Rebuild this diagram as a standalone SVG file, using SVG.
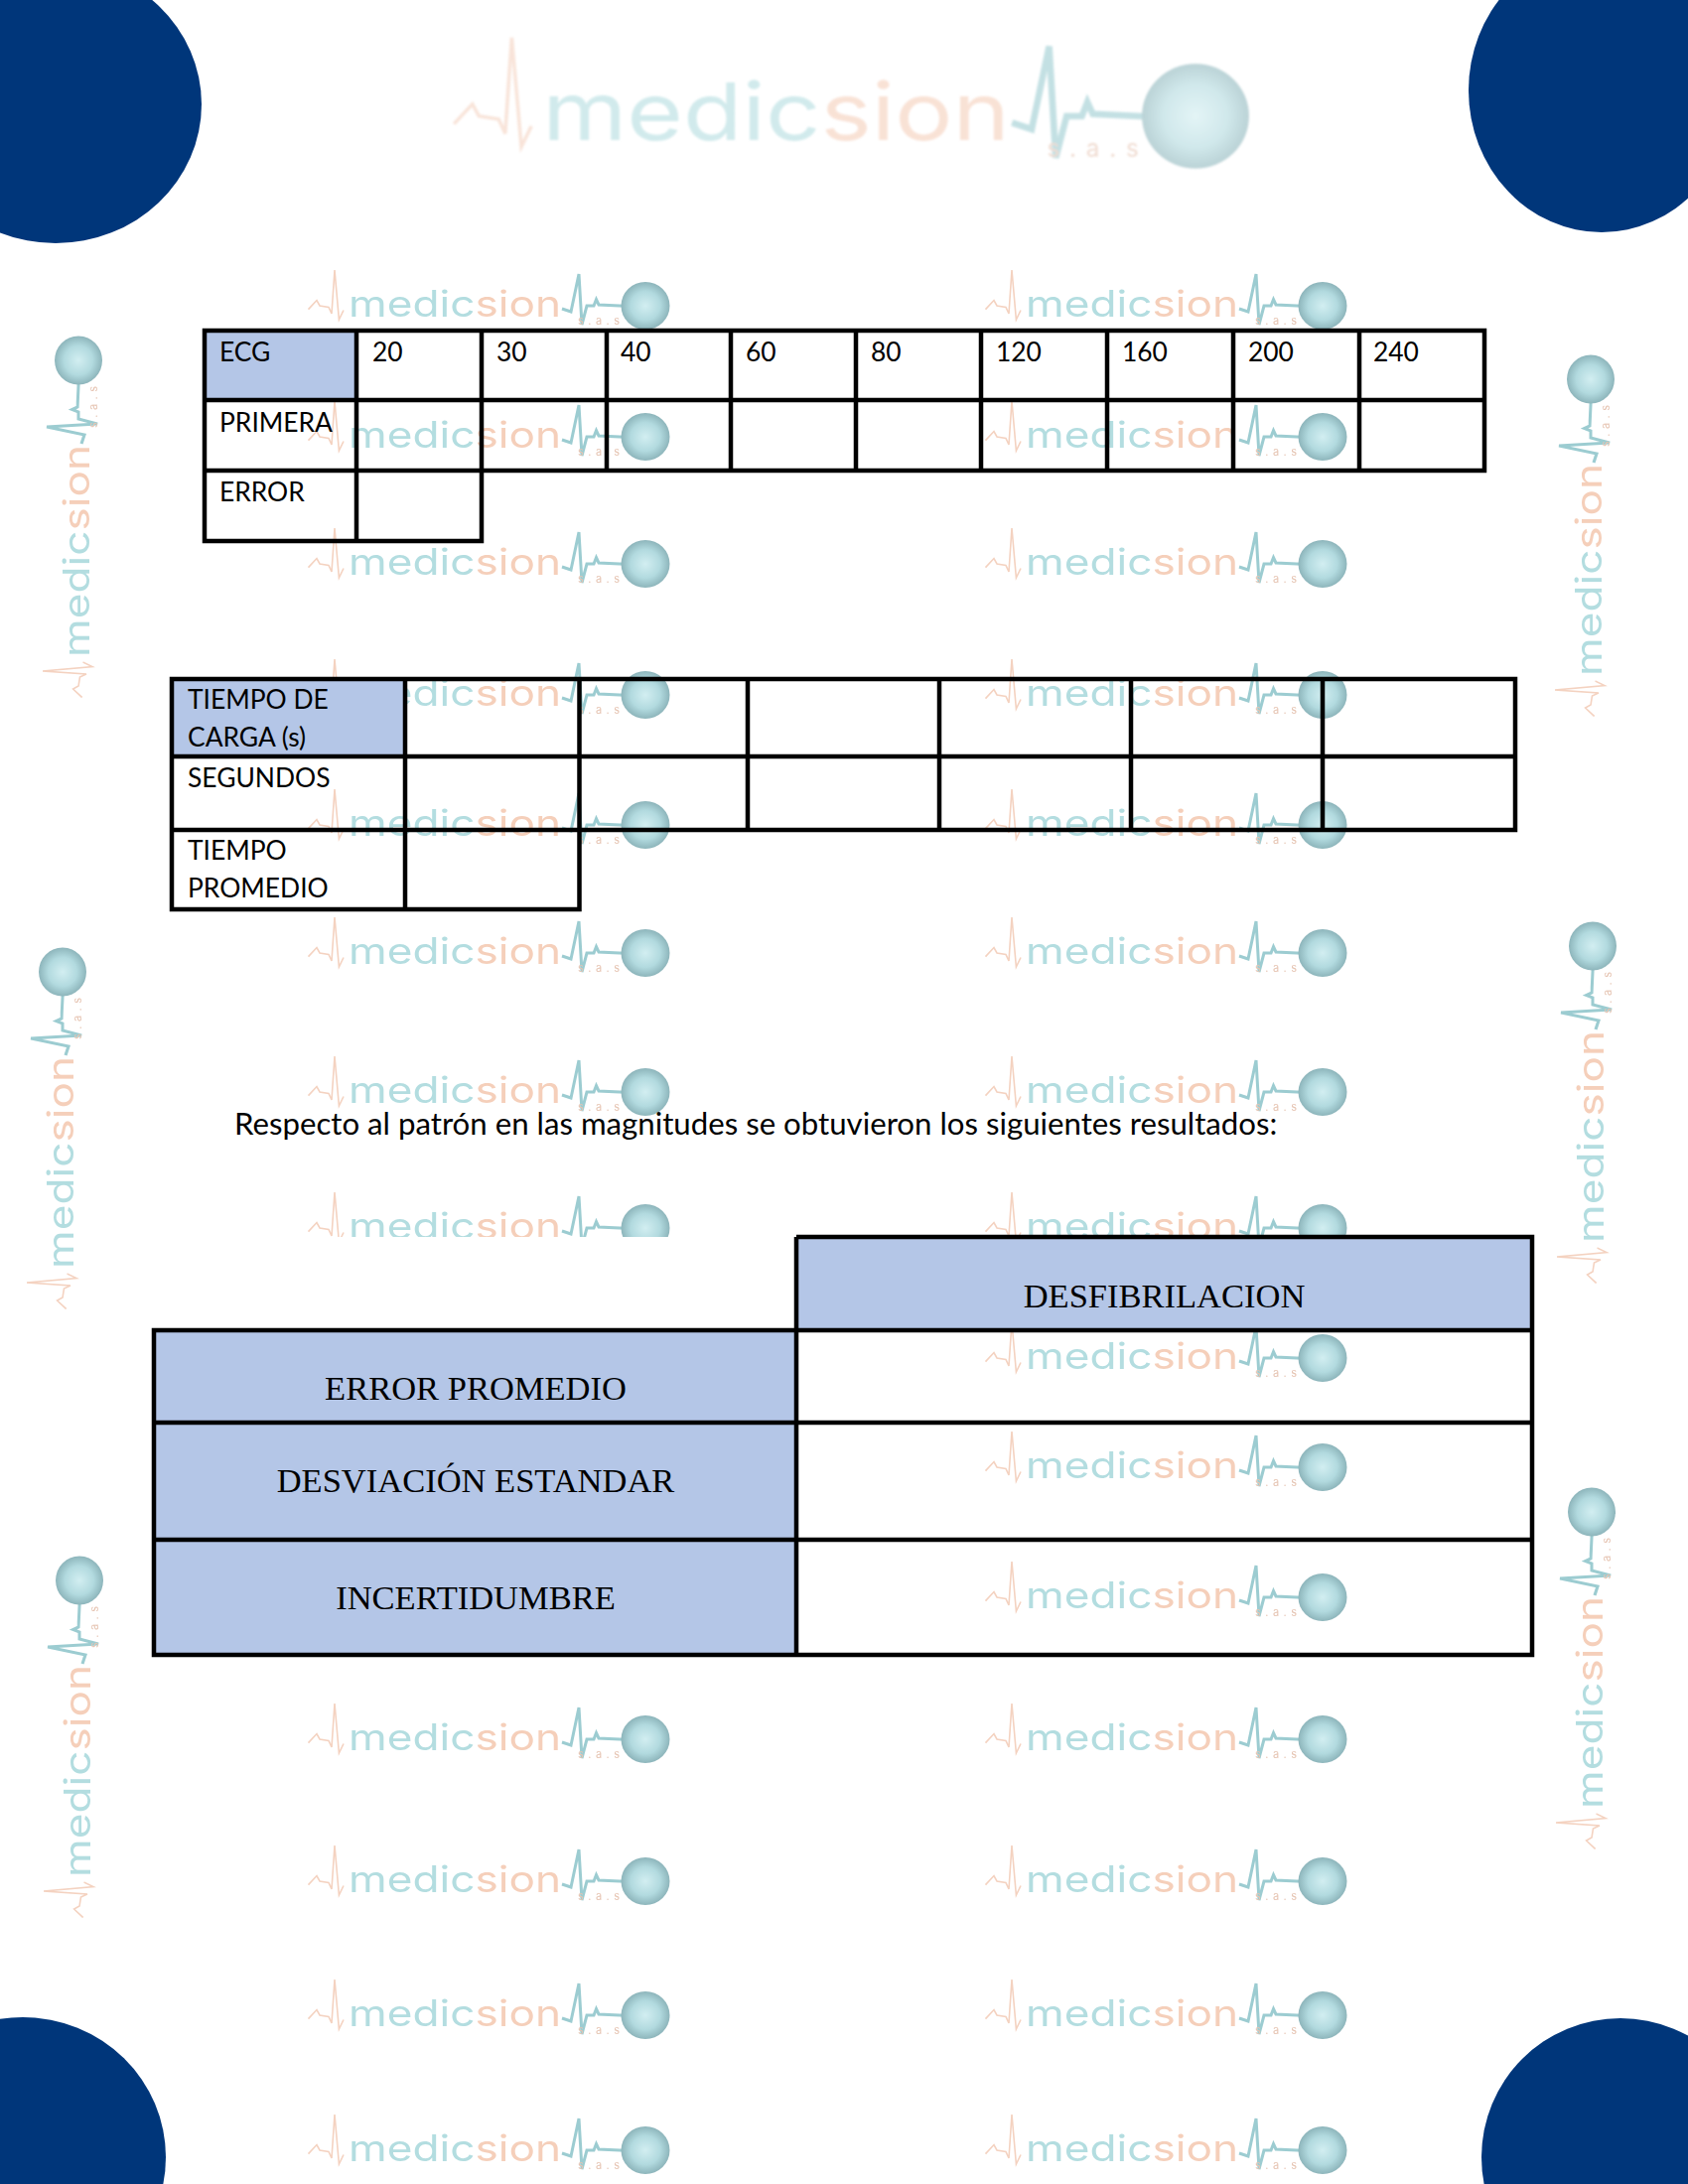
<svg xmlns="http://www.w3.org/2000/svg" xmlns:xlink="http://www.w3.org/1999/xlink" width="1700" height="2200" viewBox="0 0 1700 2200">
<style>
.corner{fill:#00367a}
.grid{fill:none;stroke:#000;stroke-width:4.500}
.head{fill:#b4c6e7}
.t{font-family:"Lato","Carlito","Liberation Sans",sans-serif;font-size:26.400px;fill:#000}
.s{font-family:"Liberation Serif",serif;font-size:34.500px;fill:#000;text-anchor:middle}
.wm{font-family:"Inter","DejaVu Sans",sans-serif;font-weight:400}
</style>
<defs>
<radialGradient id="ball" cx="50%" cy="50%" r="50%"><stop offset="0" stop-color="#d2eef1"/><stop offset=".6" stop-color="#b2dadf"/><stop offset="1" stop-color="#8db5bb"/></radialGradient>
<filter id="soft" x="-5%" y="-20%" width="110%" height="140%"><feGaussianBlur stdDeviation=".6"/></filter>
<g id="logo" filter="url(#soft)">
<path d="M-339.5 3.6L-331 -5.500L-328 0L-319 1.400L-316 8L-313 -36L-308.600 14L-304 4.500" fill="none" stroke="#f4d2c0" stroke-width="1.600"/>
<path d="M-84 3L-75 6L-67 -32L-64 19L-59 0L-52 0L-49.500 -6.400L-47 -1L-26 0L0 1" fill="none" stroke="#9cccd1" stroke-width="3"/>
<ellipse cx="0" cy="0" rx="24.500" ry="24" fill="url(#ball)"/>
<text class="wm" x="-299" y="11" font-size="36.500" textLength="214" lengthAdjust="spacingAndGlyphs"><tspan fill="#b3dde0">medic</tspan><tspan fill="#f5cfba">sion</tspan></text>
<text class="wm" x="-68" y="18.500" font-size="11" fill="#e6c4b2" font-weight="700" textLength="42" lengthAdjust="spacing">s.a.s</text>
</g>
</defs>
<rect width="1700" height="2200" fill="#fff"/>
<ellipse class="corner" cx="56" cy="105" rx="147" ry="140"/>
<ellipse class="corner" cx="1613" cy="91" rx="134" ry="143"/>
<ellipse class="corner" cx="23" cy="2173" rx="144" ry="141"/>
<circle class="corner" cx="1632" cy="2173" r="140"/>
<g id="watermarks">
<use xlink:href="#logo" href="#logo" transform="translate(1204 117) scale(2.2)" opacity=".6"/>
<use href="#logo" transform="translate(650 308)"/><use href="#logo" transform="translate(1332 308)"/>
<use href="#logo" transform="translate(650 440)"/><use href="#logo" transform="translate(1332 440)"/>
<use href="#logo" transform="translate(650 568)"/><use href="#logo" transform="translate(1332 568)"/>
<use href="#logo" transform="translate(650 700)"/><use href="#logo" transform="translate(1332 700)"/>
<use href="#logo" transform="translate(650 831)"/><use href="#logo" transform="translate(1332 831)"/>
<use href="#logo" transform="translate(650 960)"/><use href="#logo" transform="translate(1332 960)"/>
<use href="#logo" transform="translate(650 1100)"/><use href="#logo" transform="translate(1332 1100)"/>
<use href="#logo" transform="translate(650 1237)"/><use href="#logo" transform="translate(1332 1237)"/>
<use href="#logo" transform="translate(1332 1368)"/><use href="#logo" transform="translate(1332 1478)"/><use href="#logo" transform="translate(1332 1609)"/>
<use href="#logo" transform="translate(650 1752)"/><use href="#logo" transform="translate(1332 1752)"/>
<use href="#logo" transform="translate(650 1895)"/><use href="#logo" transform="translate(1332 1895)"/>
<use href="#logo" transform="translate(650 2030)"/><use href="#logo" transform="translate(1332 2030)"/>
<use href="#logo" transform="translate(650 2166)"/><use href="#logo" transform="translate(1332 2166)"/>
<use href="#logo" transform="translate(79 363) rotate(-90)"/>
<use href="#logo" transform="translate(1602 382) rotate(-90)"/>
<use href="#logo" transform="translate(63 979) rotate(-90)"/>
<use href="#logo" transform="translate(1604 953) rotate(-90)"/>
<use href="#logo" transform="translate(80 1592) rotate(-90)"/>
<use href="#logo" transform="translate(1603 1523) rotate(-90)"/>
</g>
<g id="table-ecg">
<rect class="head" x="206" y="333" width="153" height="70"/>
<path class="grid" d="M206 333H1495V474H206ZM206 403H1495M206 474V545H485V333M359 333V545M611 333V474M736 333V474M862 333V474M988 333V474M1115 333V474M1242 333V474M1369 333V474"/>
<text class="t" x="221" y="364">ECG</text><text class="t" x="375" y="364">20</text><text class="t" x="500" y="364">30</text><text class="t" x="625" y="364">40</text><text class="t" x="751" y="364">60</text><text class="t" x="877" y="364">80</text><text class="t" x="1003" y="364">120</text><text class="t" x="1130" y="364">160</text><text class="t" x="1257" y="364">200</text><text class="t" x="1383" y="364">240</text>
<text class="t" x="221" y="435">PRIMERA</text><text class="t" x="221" y="505">ERROR</text>
</g>
<g id="table-tiempo">
<rect class="head" x="173" y="684" width="235" height="78"/>
<path class="grid" d="M173 684H1526V836H173ZM173 762H1526M173 836V916H583.500V684M408 684V916M753 684V836M946 684V836M1139 684V836M1332 684V836"/>
<text class="t" x="189" y="714">TIEMPO DE</text><text class="t" x="189" y="752">CARGA (s)</text><text class="t" x="189" y="793">SEGUNDOS</text><text class="t" x="189" y="866">TIEMPO</text><text class="t" x="189" y="904">PROMEDIO</text>
</g>
<text id="parrafo" class="t" x="236" y="1143" style="font-size:31.200px">Respecto al patrón en las magnitudes se obtuvieron los siguientes resultados:</text>
<g id="table-resultados">
<rect x="155" y="1246" width="647" height="94" fill="#fff"/>
<rect class="head" x="802" y="1246" width="741" height="94"/>
<rect class="head" x="155" y="1340" width="647" height="327"/>
<path class="grid" d="M802 1246H1543V1667H155V1340H1543M155 1433H1543M155 1551H1543M802 1246V1667"/>
<text class="s" x="1172.500" y="1317">DESFIBRILACION</text>
<text class="s" x="479" y="1410">ERROR PROMEDIO</text>
<text class="s" x="479" y="1503">DESVIACIÓN ESTANDAR</text>
<text class="s" x="479" y="1621">INCERTIDUMBRE</text>
</g>
</svg>
